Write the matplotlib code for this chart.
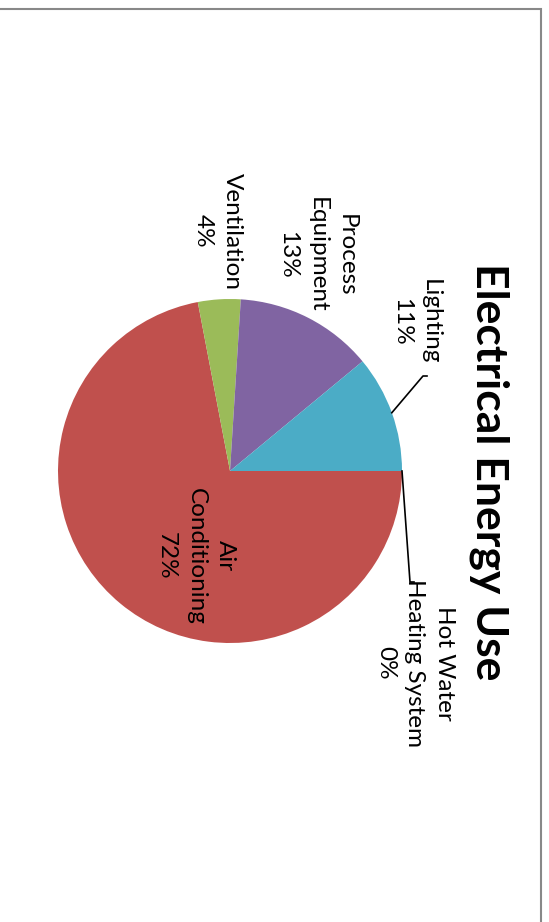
import matplotlib.pyplot as plt
from matplotlib.patches import Rectangle
import numpy as np

plt.rcParams['font.family'] = ['Lato', 'DejaVu Sans']

# Electrical energy use breakdown (percent), in drawing order
categories = ["Hot Water\nHeating System", "Air\nConditioning", "Ventilation",
              "Process\nEquipment", "Lighting"]
shares = [0, 72, 4, 13, 11]
colors = ["#4F81BD", "#C0504D", "#9BBB59", "#8064A2", "#4BACC6"]

title = "Electrical Energy Use"

W, H = 549, 922
cx, cy, r = 230, 471, 172

fig = plt.figure(figsize=(W / 100, H / 100), dpi=100)
ax = fig.add_axes([0, 0, 1, 1])

# y axis runs downwards, so counterclock=True sweeps clockwise on screen
wedges, _ = ax.pie(shares, colors=colors, startangle=0, counterclock=True,
                   radius=r, center=(cx, cy), wedgeprops=dict(linewidth=0))
ax.set_xlim(0, W)
ax.set_ylim(H, 0)
ax.set_aspect('auto')
ax.axis('off')

# label anchors (x, y) per category
label_pos = [(415, 663), (196, 556), (218, 231), (317, 255), (416, 322)]
for name, val, (lx, ly) in zip(categories, shares, label_pos):
    ax.text(lx, ly, f"{name}\n{val}%", rotation=270, ha='center', va='center',
            fontsize=17.5, linespacing=1.5, multialignment='center', color='black')

# leader lines from wedge edge to the outside labels
def edge_point(i):
    frac = sum(shares[:i]) + shares[i] / 2
    th = np.deg2rad(360 * frac / sum(shares))
    return cx + r * np.cos(th), cy + r * np.sin(th)

x0, y0 = edge_point(4)
ax.plot([x0, 423, 427], [y0, 376, 376], color='black', lw=1.2)
x0, y0 = edge_point(0)
ax.plot([x0, 410, 414], [y0, 582, 582], color='black', lw=1.2)

ax.text(489, 472, title, rotation=270, ha='center', va='center',
        fontsize=32, fontweight='bold', color='black')

# chart area frame
ax.add_patch(Rectangle((-5, 9), 546, 930, fill=False, edgecolor='#888888',
                       lw=1.5, clip_on=False))

fig.savefig("out.png", dpi=100)
